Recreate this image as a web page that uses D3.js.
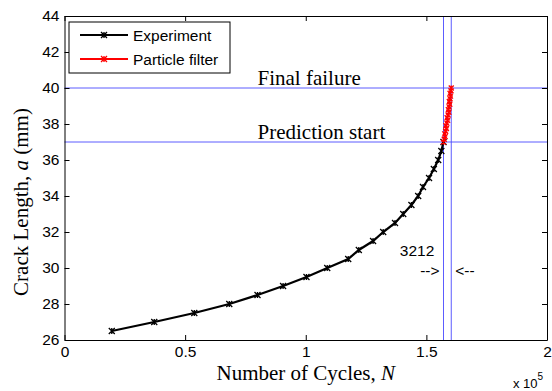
<!DOCTYPE html>
<html>
<head>
<meta charset="utf-8">
<script src="https://cdn.jsdelivr.net/npm/d3@7"></script>
<style>
  html, body { margin: 0; padding: 0; background: #fff; }
  svg { display: block; }
</style>
</head>
<body>
<svg id="chart" width="552" height="391"></svg>
<script>
// Measured crack growth (cycles, crack length in mm)
const expCycles = [19600, 37200, 53800, 68300, 80000, 90600, 100300, 108900, 117600, 122000,
                   127900, 132100, 137000, 140400, 143800, 146600, 148600, 151100, 153100,
                   154900, 156200, 157100];
const expCrack  = [26.5, 27, 27.5, 28, 28.5, 29, 29.5, 30, 30.5, 31,
                   31.5, 32, 32.5, 33, 33.5, 34, 34.5, 35, 35.5,
                   36, 36.5, 37];

// Particle filter prediction from the start point up to failure
const pfCycles = [157100, 157400, 157800, 157600, 158000, 158300, 158100, 158500, 158800, 158600,
                  159000, 159300, 159100, 159400, 159700, 159500, 159800, 160000, 159800, 160200, 160312];
const pfCrack  = [37.0, 37.15, 37.3, 37.45, 37.6, 37.75, 37.9, 38.05, 38.2, 38.35,
                  38.5, 38.65, 38.8, 38.95, 39.1, 39.25, 39.4, 39.55, 39.7, 39.85, 40.0];

const predStartCycle = 157100;
const cycleGap = 3212;
const finalCycle = predStartCycle + cycleGap;
const predStartCrack = 37;
const failureCrack = 40;

const xTicks = [0, 50000, 100000, 150000, 200000];
const yTicks = [26, 28, 30, 32, 34, 36, 38, 40, 42, 44];
const legendLabels = ["Experiment", "Particle filter"];

const W = 552, H = 391;
const m = { left: 64.5, right: 5, top: 16, bottom: 51 };
const svg = d3.select("#chart");

const x = d3.scaleLinear().domain([0, 200000]).range([m.left, W - m.right]);
const y = d3.scaleLinear().domain([26, 44]).range([H - m.bottom, m.top]);

const sans = "Arial, 'Liberation Sans', Helvetica, sans-serif";
const serif = "'Times New Roman', 'Liberation Serif', Times, serif";

// Reference lines
const blue = "#4a4aff";
const g = svg.append("g");
[failureCrack, predStartCrack].forEach(v => {
  g.append("line").attr("x1", x(0)).attr("x2", x(200000))
    .attr("y1", y(v)).attr("y2", y(v))
    .attr("stroke", blue).attr("stroke-width", 0.9);
});
[predStartCycle, finalCycle].forEach(v => {
  g.append("line").attr("x1", x(v)).attr("x2", x(v))
    .attr("y1", y(26)).attr("y2", y(44))
    .attr("stroke", blue).attr("stroke-width", 0.9);
});

// Axes (ticks inward, mirrored on top/right)
const tl = 5;
const axB = d3.axisBottom(x).tickValues(xTicks).tickSizeInner(-tl).tickSizeOuter(0)
  .tickPadding(6).tickFormat(d => d3.format("~g")(d / 1e5));
const axT = d3.axisTop(x).tickValues(xTicks).tickSizeInner(-tl).tickSizeOuter(0).tickFormat("");
const axL = d3.axisLeft(y).tickValues(yTicks).tickSizeInner(-tl).tickSizeOuter(0).tickPadding(5);
const axR = d3.axisRight(y).tickValues(yTicks).tickSizeInner(-tl).tickSizeOuter(0).tickFormat("");

function styleAxis(sel) {
  sel.select(".domain").attr("stroke", "#000").attr("stroke-width", 1);
  sel.selectAll(".tick line").attr("stroke", "#000");
  sel.selectAll("text").attr("fill", "#000").style("font-family", sans).style("font-size", "15.5px");
}
svg.append("g").attr("transform", `translate(0,${y(26)})`).call(axB).call(styleAxis);
svg.append("g").attr("transform", `translate(0,${y(44)})`).call(axT).call(styleAxis);
svg.append("g").attr("transform", `translate(${x(0)},0)`).call(axL).call(styleAxis);
svg.append("g").attr("transform", `translate(${x(200000)},0)`).call(axR).call(styleAxis);

// Data lines
const line = d3.line().x(d => x(d[0])).y(d => y(d[1]));
const expData = expCycles.map((c, i) => [c, expCrack[i]]);
const pfData = pfCycles.map((c, i) => [c, pfCrack[i]]);

function xMarks(sel, data, color, s) {
  sel.selectAll(null).data(data).enter().append("path")
    .attr("d", d => {
      const cx = x(d[0]), cy = y(d[1]);
      return `M${cx - s},${cy - s}L${cx + s},${cy + s}M${cx - s},${cy + s}L${cx + s},${cy - s}M${cx},${cy - s}L${cx},${cy + s}`;
    })
    .attr("stroke", color).attr("stroke-width", 1.3).attr("fill", "none");
}

svg.append("path").datum(expData).attr("d", line)
  .attr("fill", "none").attr("stroke", "#000").attr("stroke-width", 2.2);
xMarks(svg.append("g"), expData, "#000", 3);

svg.append("path").datum(pfData).attr("d", line)
  .attr("fill", "none").attr("stroke", "#ff0000").attr("stroke-width", 2);
xMarks(svg.append("g"), pfData, "#ff0000", 2.5);

// Annotations
svg.append("text").attr("x", x(80000)).attr("y", y(failureCrack) - 3)
  .style("font-family", serif).style("font-size", "21px").text("Final failure");
svg.append("text").attr("x", x(80000)).attr("y", y(predStartCrack) - 3)
  .style("font-family", serif).style("font-size", "21px").text("Prediction start");
svg.append("text").attr("x", x(139000)).attr("y", y(31) + 6)
  .style("font-family", sans).style("font-size", "15.5px").text(String(cycleGap));
svg.append("text").attr("x", x(predStartCycle) - 4).attr("y", y(29.85) + 5)
  .attr("text-anchor", "end")
  .style("font-family", sans).style("font-size", "15.5px").text("-->");
svg.append("text").attr("x", x(finalCycle) + 4).attr("y", y(29.85) + 5)
  .style("font-family", sans).style("font-size", "15.5px").text("<--");

// Axis labels
const xl = svg.append("text").attr("x", x(100000)).attr("y", 380)
  .attr("text-anchor", "middle").style("font-family", serif).style("font-size", "21px");
xl.append("tspan").text("Number of Cycles, ");
xl.append("tspan").style("font-style", "italic").text("N");

const yl = svg.append("text").attr("transform", "translate(28,202) rotate(-90)")
  .attr("text-anchor", "middle").style("font-family", serif).style("font-size", "21px");
yl.append("tspan").text("Crack Length, ");
yl.append("tspan").style("font-style", "italic").text("a");
yl.append("tspan").text(" (mm)");

const ex = svg.append("text").attr("x", 513).attr("y", 388)
  .style("font-family", sans).style("font-size", "13px");
ex.append("tspan").text("x 10");
ex.append("tspan").attr("dy", -8).style("font-size", "10px").text("5");

// Legend
const lg = svg.append("g");
lg.append("rect").attr("x", 69).attr("y", 22).attr("width", 161).attr("height", 51)
  .attr("fill", "#fff").attr("stroke", "#000").attr("stroke-width", 1);
const legendColors = ["#000", "#ff0000"];
legendLabels.forEach((lab, i) => {
  const ly = 35 + i * 24;
  lg.append("line").attr("x1", 80).attr("x2", 128).attr("y1", ly).attr("y2", ly)
    .attr("stroke", legendColors[i]).attr("stroke-width", 2);
  lg.append("path")
    .attr("d", `M101,${ly - 3}L107,${ly + 3}M101,${ly + 3}L107,${ly - 3}M104,${ly - 3}L104,${ly + 3}`)
    .attr("stroke", legendColors[i]).attr("stroke-width", 1.3);
  lg.append("text").attr("x", 133).attr("y", ly + 5.5)
    .style("font-family", sans).style("font-size", "15.5px").text(lab);
});
</script>
</body>
</html>
